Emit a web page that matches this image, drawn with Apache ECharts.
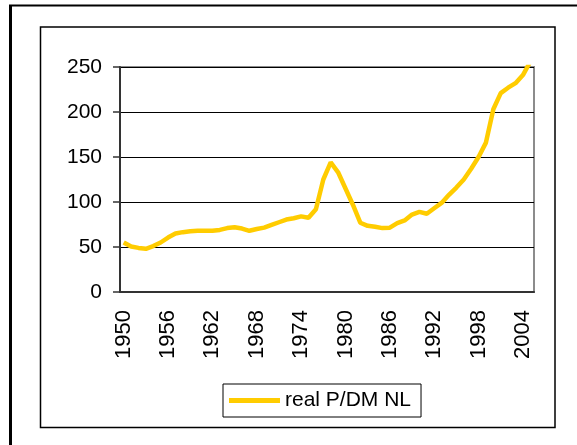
<!DOCTYPE html>
<html>
<head>
<meta charset="utf-8">
<title>real P/DM NL</title>
<script src="https://cdn.jsdelivr.net/npm/echarts@6/dist/echarts.min.js"></script>
<style>
  html, body { margin: 0; padding: 0; background: #fff; }
  #main { width: 577px; height: 445px; }
</style>
</head>
<body>
<div id="main"></div>
<script>
// years 1950 - 2005
var years = [];
for (var y = 1950; y <= 2005; y++) years.push(String(y));

// real P/DM NL
var realPDM = [
  55, 50.5, 49, 48, 51, 55, 60.5, 65, 66.5, 67.5,
  68, 68, 68, 69, 71, 72, 70.5, 68, 70, 71.5,
  74.5, 77.5, 80.5, 82, 84, 82.5, 92, 125, 144, 133,
  115, 97, 77, 73.5, 72.5, 71, 71.5, 76.5, 79.5, 86,
  89, 87, 93, 99, 108, 116, 125, 137, 150, 166,
  203, 221, 227, 232, 241, 256
];

var yTicks = { min: 0, max: 250, interval: 50 };
var font = "'Liberation Sans', Arial, sans-serif";

var myChart = echarts.init(document.getElementById('main'));
myChart.setOption({
  backgroundColor: '#fff',
  animation: false,
  graphic: [
    // outer frame (left + top only visible)
    { type: 'line', shape: { x1: 10.5, y1: 5, x2: 10.5, y2: 445 }, style: { stroke: '#000', lineWidth: 3 } },
    { type: 'line', shape: { x1: 9, y1: 5.5, x2: 577, y2: 5.5 }, style: { stroke: '#000', lineWidth: 2 } },
    // chart area box
    { type: 'rect', shape: { x: 40.5, y: 27, width: 514.5, height: 400.5 }, style: { fill: 'none', stroke: '#000', lineWidth: 1.5 }, z: -1 }
  ],
  grid: {
    left: 120, top: 67, right: 43, bottom: 153,
    show: true, borderColor: '#8c8c8c', borderWidth: 2
  },
  legend: {
    left: 223, top: 384,
    padding: [6, 10, 6, 6],
    borderColor: '#000', borderWidth: 1,
    icon: 'rect', itemWidth: 51, itemHeight: 5, itemGap: 5,
    textStyle: { fontFamily: font, fontSize: 21, color: '#000' },
    data: ['real P/DM NL']
  },
  xAxis: {
    type: 'category',
    data: years,
    boundaryGap: true,
    axisLine: { lineStyle: { color: '#333', width: 2 } },
    axisTick: { interval: 2, length: 7, lineStyle: { color: '#333', width: 1.5 } },
    axisLabel: {
      interval: 5, rotate: 90, margin: 18,
      fontFamily: font, fontSize: 22, color: '#000'
    },
    splitLine: { show: false }
  },
  yAxis: {
    type: 'value',
    min: yTicks.min, max: yTicks.max, interval: yTicks.interval,
    axisLine: { show: true, lineStyle: { color: '#333', width: 2 } },
    axisTick: { show: true, length: 7, lineStyle: { color: '#333', width: 1.5 } },
    axisLabel: { margin: 18, fontFamily: font, fontSize: 21, color: '#000' },
    splitLine: { lineStyle: { color: '#000', width: 1 } }
  },
  series: [{
    name: 'real P/DM NL',
    type: 'line',
    data: realPDM,
    symbol: 'none',
    itemStyle: { color: '#FFCC00' },
    lineStyle: { color: '#FFCC00', width: 4.5 }
  }]
});
</script>
</body>
</html>
